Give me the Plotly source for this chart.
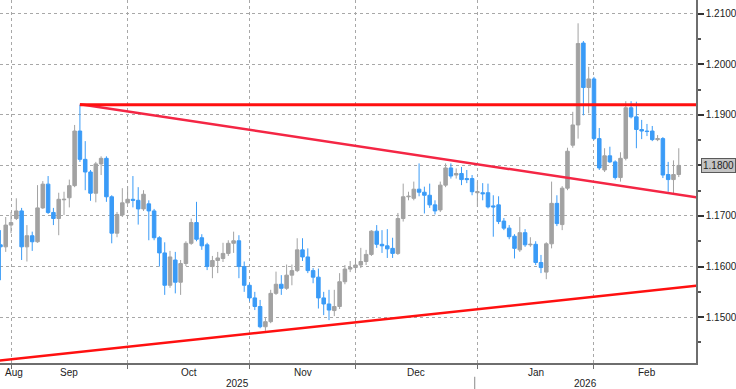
import numpy as np
import pandas as pd
import plotly.graph_objects as go

# ---------------- data (EUR/USD daily) ----------------
dates = pd.bdate_range("2025-08-28", "2026-02-24")

opens = [1.1643, 1.1639, 1.1682, 1.1695, 1.1710, 1.1639, 1.1661, 1.1649, 1.1716, 1.1763,
         1.1707, 1.1695, 1.1732, 1.1736, 1.1760, 1.1868, 1.1812, 1.1787, 1.1745, 1.1803,
         1.1814, 1.1738, 1.1666, 1.1702, 1.1726, 1.1733, 1.1731, 1.1714, 1.1724, 1.1710,
         1.1657, 1.1627, 1.1563, 1.1613, 1.1569, 1.1606, 1.1646, 1.1687, 1.1657, 1.1643,
         1.1600, 1.1612, 1.1616, 1.1626, 1.1646, 1.1651, 1.1600, 1.1563, 1.1538, 1.1521,
         1.1481, 1.1491, 1.1547, 1.1565, 1.1557, 1.1583, 1.1592, 1.1633, 1.1619, 1.1592,
         1.1579, 1.1538, 1.1526, 1.1513, 1.1521, 1.1570, 1.1595, 1.1598, 1.1603, 1.1610,
         1.1624, 1.1670, 1.1644, 1.1641, 1.1636, 1.1626, 1.1695, 1.1738, 1.1735, 1.1753,
         1.1747, 1.1741, 1.1722, 1.1712, 1.1761, 1.1795, 1.1781, 1.1784, 1.1774, 1.1774,
         1.1746, 1.1746, 1.1746, 1.1720, 1.1722, 1.1690, 1.1676, 1.1660, 1.1633, 1.1667,
         1.1643, 1.1644, 1.1608, 1.1589, 1.1645, 1.1725, 1.1683, 1.1755, 1.1840, 1.1880,
         1.2042, 1.1954, 1.1971, 1.1853, 1.1791, 1.1819, 1.1807, 1.1776, 1.1814, 1.1914,
         1.1896, 1.1871, 1.1868, 1.1868, 1.1851, 1.1853, 1.1782, 1.1772, 1.1782]
highs = [1.1672, 1.1698, 1.1708, 1.1735, 1.1716, 1.1682, 1.1669, 1.1761, 1.1769, 1.1779,
         1.1716, 1.1746, 1.1748, 1.1772, 1.1880, 1.1920, 1.1848, 1.1791, 1.1807, 1.1818,
         1.1818, 1.1741, 1.1708, 1.1755, 1.1759, 1.1779, 1.1757, 1.1751, 1.1731, 1.1714,
         1.1660, 1.1648, 1.1631, 1.1629, 1.1613, 1.1650, 1.1695, 1.1728, 1.1664, 1.1647,
         1.1621, 1.1629, 1.1647, 1.1652, 1.1669, 1.1662, 1.1610, 1.1567, 1.1550, 1.1534,
         1.1498, 1.1554, 1.1590, 1.1583, 1.1604, 1.1604, 1.1656, 1.1656, 1.1636, 1.1597,
         1.1596, 1.1550, 1.1554, 1.1554, 1.1587, 1.1603, 1.1611, 1.1617, 1.1637, 1.1633,
         1.1672, 1.1682, 1.1672, 1.1674, 1.1657, 1.1706, 1.1764, 1.1748, 1.1768, 1.1804,
         1.1758, 1.1764, 1.1731, 1.1768, 1.1804, 1.1804, 1.1794, 1.1797, 1.1791, 1.1781,
         1.1768, 1.1765, 1.1764, 1.1741, 1.1739, 1.1696, 1.1682, 1.1664, 1.1698, 1.1674,
         1.1658, 1.1650, 1.1623, 1.1648, 1.1768, 1.1741, 1.1759, 1.1835, 1.1906, 1.2081,
         1.2046, 1.1995, 1.1975, 1.1874, 1.1834, 1.1837, 1.1810, 1.1826, 1.1927, 1.1927,
         1.1926, 1.1890, 1.1882, 1.1878, 1.1860, 1.1856, 1.1807, 1.1810, 1.1834]
lows = [1.1573, 1.1629, 1.1666, 1.1692, 1.1613, 1.1610, 1.1631, 1.1647, 1.1714, 1.1704,
        1.1682, 1.1662, 1.1702, 1.1717, 1.1757, 1.1807, 1.1751, 1.1730, 1.1727, 1.1781,
        1.1728, 1.1646, 1.1658, 1.1698, 1.1724, 1.1717, 1.1683, 1.1710, 1.1652, 1.1652,
        1.1600, 1.1544, 1.1558, 1.1547, 1.1544, 1.1601, 1.1643, 1.1650, 1.1633, 1.1593,
        1.1577, 1.1587, 1.1609, 1.1621, 1.1627, 1.1577, 1.1550, 1.1531, 1.1514, 1.1478,
        1.1473, 1.1488, 1.1544, 1.1544, 1.1554, 1.1563, 1.1589, 1.1611, 1.1587, 1.1567,
        1.1517, 1.1504, 1.1494, 1.1502, 1.1516, 1.1565, 1.1589, 1.1593, 1.1597, 1.1603,
        1.1621, 1.1637, 1.1627, 1.1617, 1.1617, 1.1623, 1.1689, 1.1731, 1.1731, 1.1739,
        1.1705, 1.1716, 1.1703, 1.1708, 1.1757, 1.1774, 1.1774, 1.1761, 1.1765, 1.1741,
        1.1718, 1.1731, 1.1715, 1.1659, 1.1684, 1.1672, 1.1654, 1.1616, 1.1629, 1.1639,
        1.1639, 1.1603, 1.1587, 1.1575, 1.1636, 1.1680, 1.1672, 1.1751, 1.1835, 1.1853,
        1.1899, 1.1903, 1.1850, 1.1791, 1.1787, 1.1805, 1.1772, 1.1768, 1.1810, 1.1893,
        1.1834, 1.1852, 1.1858, 1.1848, 1.1848, 1.1775, 1.1748, 1.1745, 1.1777]
closes = [1.1639, 1.1682, 1.1687, 1.1710, 1.1639, 1.1661, 1.1649, 1.1716, 1.1763, 1.1707,
          1.1695, 1.1733, 1.1733, 1.1760, 1.1868, 1.1812, 1.1787, 1.1745, 1.1803, 1.1814,
          1.1738, 1.1666, 1.1703, 1.1726, 1.1733, 1.1731, 1.1714, 1.1743, 1.1710, 1.1657,
          1.1627, 1.1563, 1.1619, 1.1569, 1.1606, 1.1646, 1.1687, 1.1654, 1.1641, 1.1600,
          1.1612, 1.1617, 1.1626, 1.1646, 1.1651, 1.1600, 1.1563, 1.1538, 1.1521, 1.1481,
          1.1491, 1.1547, 1.1565, 1.1557, 1.1583, 1.1592, 1.1633, 1.1619, 1.1592, 1.1579,
          1.1538, 1.1526, 1.1514, 1.1521, 1.1570, 1.1595, 1.1598, 1.1603, 1.1610, 1.1624,
          1.1670, 1.1644, 1.1641, 1.1635, 1.1626, 1.1695, 1.1738, 1.1739, 1.1753, 1.1747,
          1.1741, 1.1722, 1.1710, 1.1761, 1.1795, 1.1779, 1.1784, 1.1772, 1.1772, 1.1748,
          1.1748, 1.1744, 1.1718, 1.1718, 1.1689, 1.1676, 1.1659, 1.1636, 1.1667, 1.1643,
          1.1644, 1.1608, 1.1598, 1.1645, 1.1725, 1.1685, 1.1755, 1.1828, 1.1880, 1.2041,
          1.1954, 1.1971, 1.1853, 1.1795, 1.1819, 1.1807, 1.1776, 1.1814, 1.1914, 1.1896,
          1.1871, 1.1868, 1.1867, 1.1851, 1.1853, 1.1781, 1.1772, 1.1782, 1.1800]

# trend lines drawn on the chart: (bar index, price) pairs
resistance_x = [15, 131.3]
resistance_y = [1.1920, 1.1920]
falling_x = [15, 131.3]
falling_y = [1.1921, 1.1737]
rising_x = [-0.1, 131.3]
rising_y = [1.1414, 1.1562]

y_ticks = [1.15, 1.16, 1.17, 1.18, 1.19, 1.20, 1.21]
last_label = "1.1800"

# ---------------- figure ----------------
x = np.arange(len(dates))
x_min, x_max = -0.08, 131.25
y_min, y_max = 1.14093, 1.21271

UP = "#a2a2a2"
DOWN = "#3a9bf7"
GRID = "#a8a8a8"
AXIS = "#6e6e6e"
FONT = "Liberation Sans"

fig = go.Figure()
fig.add_trace(go.Candlestick(
    x=x, open=opens, high=highs, low=lows, close=closes,
    increasing=dict(line=dict(color=UP, width=1), fillcolor=UP),
    decreasing=dict(line=dict(color=DOWN, width=1), fillcolor=DOWN),
    whiskerwidth=0, showlegend=False, hoverinfo="skip"))

fig.add_trace(go.Scatter(x=rising_x, y=rising_y, mode="lines",
                         line=dict(color="#ff1010", width=2.5), showlegend=False, hoverinfo="skip"))
fig.add_trace(go.Scatter(x=falling_x, y=falling_y, mode="lines",
                         line=dict(color="#f42644", width=2.5), showlegend=False, hoverinfo="skip"))
fig.add_trace(go.Scatter(x=resistance_x, y=resistance_y, mode="lines",
                         line=dict(color="#ff1010", width=3), showlegend=False, hoverinfo="skip"))

# month boundaries (first trading day of each month)
months = dates.to_period("M")
bounds = [i for i in range(1, len(dates)) if months[i] != months[i - 1]]

annotations = []
seg_starts = [None] + bounds
for j, s in enumerate(seg_starts):
    if s is None:
        label = dates[0].strftime("%b")
        annotations.append(dict(x=x_min, xref="x", xanchor="left", xshift=3,
                                y=0, yref="paper", yanchor="top", yshift=-2,
                                text=label, showarrow=False,
                                font=dict(family=FONT, size=10, color="#222")))
        continue
    m = dates[s]
    m_days = len(pd.bdate_range(m.replace(day=1), m + pd.offsets.MonthEnd(0)))
    e = bounds[j] if j < len(bounds) else s + m_days
    annotations.append(dict(x=(s + e) / 2, xref="x", xanchor="center",
                            y=0, yref="paper", yanchor="top", yshift=-2,
                            text=m.strftime("%b"), showarrow=False,
                            font=dict(family=FONT, size=10, color="#222")))

# year labels centred on the visible part of each year
years = dates.year
for yr in sorted(set(years)):
    idx = np.where(years == yr)[0]
    lo = max(idx[0] - 0.5, x_min)
    hi = min(idx[-1] + 0.5, x_max) if yr != years[-1] else x_max
    annotations.append(dict(x=(lo + hi) / 2, xref="x", xanchor="center",
                            y=0, yref="paper", yanchor="top", yshift=-13,
                            text=str(yr), showarrow=False,
                            font=dict(family=FONT, size=10, color="#222")))

# last price tag (covers the regular tick label at that level)
annotations.append(dict(x=1, xref="paper", xanchor="left", xshift=5,
                        y=closes[-1], yref="y", yanchor="middle",
                        text=last_label, showarrow=False,
                        bgcolor="#c4c4c4", bordercolor="#5a5a5a", borderwidth=1, borderpad=1,
                        font=dict(family=FONT, size=10, color="#222")))

tick_text = ["" if f"{v:.4f}" == last_label else f"{v:.4f}" for v in y_ticks]

shapes = []
year_start = [i for i in range(1, len(dates)) if years[i] != years[i - 1]]
for i in year_start:
    shapes.append(dict(type="line", xref="x", yref="paper", x0=i - 0.5, x1=i - 0.5,
                       y0=-0.038, y1=-0.075, line=dict(color="#888", width=1)))

fig.update_layout(
    width=736, height=389,
    margin=dict(l=0, r=40, t=0, b=26),
    paper_bgcolor="white", plot_bgcolor="white",
    showlegend=False,
    annotations=annotations,
    shapes=shapes,
    boxgap=0.05,
    xaxis=dict(range=[x_min, x_max], tickvals=bounds, ticktext=[""] * len(bounds),
               showgrid=True, gridcolor=GRID, griddash="dot", gridwidth=1,
               ticks="outside", ticklen=4, tickcolor=AXIS,
               showline=True, linecolor=AXIS, linewidth=2,
               zeroline=False, rangeslider=dict(visible=False), fixedrange=True),
    yaxis=dict(range=[y_min, y_max], side="right", tickvals=y_ticks, ticktext=tick_text,
               showgrid=True, gridcolor=GRID, griddash="dot", gridwidth=1,
               ticks="outside", ticklen=6, tickwidth=2, tickcolor="#333",
               minor=dict(dtick=0.005, tick0=1.145, ticks="outside", ticklen=3,
                          tickcolor="#555", showgrid=False),
               showline=True, linecolor=AXIS, linewidth=1.5,
               zeroline=False, tickfont=dict(family=FONT, size=10, color="#222"),
               fixedrange=True, automargin=False),
)

fig.write_html("out.html", config={"displayModeBar": False},
               post_script="document.body.style.margin='0';document.body.style.overflow='hidden';")
